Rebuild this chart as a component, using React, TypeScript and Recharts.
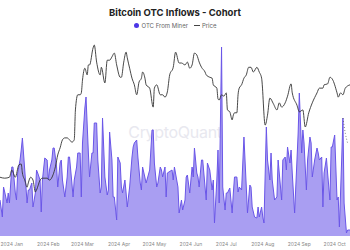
import React from "react";
import { ComposedChart, Area, Line, XAxis, YAxis } from "recharts";

// day offsets from 2024-01-01
const otcDays = [
  -10, -8, -7, -6, -4, -3, -2, 0, 1, 3, 4, 5, 7, 8, 9, 11, 13, 14, 15, 17, 18, 20, 21, 22, 24, 25, 26, 28, 30, 31,
  32, 34, 35, 36, 38, 39, 41, 42, 43, 45, 47, 48, 49, 51, 52, 53, 55, 56, 58, 59, 60, 62, 63, 65, 66, 68, 69, 70, 72, 73,
  75, 76, 77, 79, 81, 82, 83, 85, 86, 87, 89, 90, 92, 93, 94, 96, 97, 98, 100, 102, 103, 104, 106, 107, 109, 110, 111, 114, 117, 119,
  120, 121, 123, 124, 126, 127, 128, 130, 131, 132, 136, 137, 138, 141, 142, 144, 145, 147, 148, 149, 151, 153, 154, 155, 157, 158, 159, 161, 162, 164,
  165, 166, 168, 170, 171, 172, 174, 175, 176, 178, 179, 181, 182, 183, 185, 187, 188, 189, 191, 192, 193, 195, 197, 199, 200, 202, 203, 204, 206, 208,
  209, 210, 212, 213, 214, 216, 217, 219, 220, 221, 223, 225, 226, 229, 230, 232, 233, 234, 236, 237, 238, 240, 242, 243, 244, 246, 247, 248, 250, 251,
  253, 254, 255, 257, 259, 260, 261, 263, 264, 265, 267, 268, 270, 271, 272, 274, 276, 277, 278, 280, 281, 282, 284, 285, 287,
];
const otcFromMiner = [
  36, 19, 49, 44, 33, 43, 33, 69, 69, 43, 36, 63, 76, 86, 98, 66, 33, 46, 46, 53, 29, 43, 66, 63, 56, 24, 56, 78, 76, 56,
  66, 76, 88, 88, 69, 49, 73, 76, 56, 39, 59, 79, 79, 53, 39, 56, 69, 83, 83, 39, 93, 128, 139, 83, 59, 83, 83, 113, 113, 76,
  43, 49, 118, 59, 41, 46, 104, 76, 39, 39, 16, 79, 73, 49, 43, 56, 43, 29, 49, 79, 89, 93, 96, 79, 53, 46, 69, 53, 66, 106,
  106, 73, 49, 53, 69, 66, 59, 69, 39, 63, 66, 56, 69, 49, 23, 36, 26, 36, 59, 61, 43, 69, 59, 88, 63, 59, 49, 76, 76, 49,
  36, 73, 66, 46, 56, 13, 56, 86, 33, 189, 49, 26, 43, 43, 48, 23, 43, 59, 59, 44, 49, 46, 99, 49, 23, 51, 49, 29, 19, 18,
  29, 19, 29, 19, 13, 109, 76, 56, 83, 56, 36, 39, 76, 36, 76, 79, 66, 89, 73, 86, 63, 23, 76, 103, 143, 83, 106, 93, 46, 76,
  99, 93, 59, 76, 88, 83, 76, 79, 29, 63, 78, 63, 36, 89, 89, 101, 36, 39, 9, 79, 118, 33, 3, 6, 6,
];

const priceDays = [
  -10, -6, -2, 0, 3, 6, 8, 9, 11, 13, 14, 16, 18, 20, 21, 24, 26, 30, 32, 35, 37, 39, 41, 43, 45, 47, 49, 51, 53, 54,
  56, 58, 59, 60, 62, 64, 65, 66, 69, 70, 72, 75, 76, 79, 81, 83, 85, 87, 89, 92, 93, 95, 97, 98, 100, 102, 104, 106, 108, 110,
  111, 113, 114, 117, 120, 121, 123, 126, 128, 130, 132, 134, 137, 139, 142, 144, 147, 149, 151, 153, 155, 157, 159, 161, 164, 165, 168, 170, 171, 174,
  175, 176, 178, 180, 182, 183, 185, 187, 188, 189, 191, 192, 193, 195, 197, 199, 201, 203, 205, 208, 210, 212, 215, 217, 219, 222, 225, 227, 229, 232,
  234, 237, 238, 242, 244, 247, 249, 252, 255, 259, 261, 264, 265, 268, 270, 272, 276, 277, 279, 281, 283, 287,
];
const price = [
  44700, 44500, 44700, 46200, 44700, 47300, 47500, 45600, 44100, 42600, 43500, 44700, 44100, 41600, 42000, 44100, 44500, 44500, 44100, 45200, 46900, 49400, 50900, 52600, 53000, 53000, 52600, 52100, 52600, 58900,
  62100, 62100, 62500, 65200, 67700, 66300, 68400, 68400, 72000, 72600, 69000, 66300, 67900, 64600, 69400, 69400, 70100, 70900, 68400, 65800, 65800, 69000, 71100, 69900, 67700, 65600, 64200, 62100, 64800, 65600,
  66900, 65600, 64200, 63500, 59500, 63500, 64200, 62100, 62100, 61600, 62700, 66300, 67900, 71100, 68800, 68800, 68400, 69000, 67700, 68400, 70900, 70500, 69000, 67900, 66900, 66300, 65800, 65600, 64200, 63500,
  61200, 61000, 62100, 61800, 62500, 58900, 58500, 56800, 57800, 58300, 58300, 62100, 63500, 64200, 65600, 66300, 67900, 67900, 66900, 67900, 66900, 65600, 55700, 57800, 61400, 60200, 58900, 60400, 59500, 60400,
  61800, 64400, 62500, 59900, 58500, 58900, 55300, 58300, 60400, 62500, 63500, 63500, 64200, 64400, 65800, 65400, 62500, 61600, 62500, 62100, 63500, 64200,
];

// short dotted trace at the right edge
const dottedDays = [281, 283, 285];
const dottedValues = [57200, 54000, 51900];

const monthTicks = [0, 31, 60, 91, 121, 152, 182, 213, 244, 274];
const monthLabels = ["2024 Jan", "2024 Feb", "2024 Mar", "2024 Apr", "2024 May", "2024 Jun", "2024 Jul", "2024 Aug", "2024 Sep", "2024 Oct"];

const otcData = otcDays.map((day, i) => ({ day, otc: otcFromMiner[i] }));
const priceData = priceDays.map((day, i) => ({ day, price: price[i] }));
const dottedData = dottedDays.map((day, i) => ({ day, dotted: dottedValues[i] }));

const FONT = "Inter, 'Noto Sans', sans-serif";

export default function App() {
  return (
    <div style={{ position: "absolute", left: 0, top: 0, width: 350, height: 250, background: "#fff", fontFamily: FONT, overflow: "hidden" }}>
      <div style={{ position: "absolute", left: 0, width: 350, top: 7, textAlign: "center", fontSize: 9.5, fontWeight: 700, color: "#222" }}>
        Bitcoin OTC Inflows - Cohort
      </div>
      <div style={{ position: "absolute", left: 0, width: 350, top: 22, display: "flex", justifyContent: "center", alignItems: "center", fontSize: 6, color: "#666" }}>
        <span style={{ width: 5, height: 5, borderRadius: 3, background: "#4b36e6", marginRight: 3 }} />
        <span>OTC From Miner</span>
        <span style={{ width: 6, borderTop: "1px solid #444", marginLeft: 6, marginRight: 2 }} />
        <span>Price</span>
      </div>
      <div style={{ position: "absolute", left: 0, width: 350, top: 122, textAlign: "center", fontSize: 16, color: "#e8e8ef", letterSpacing: -0.3 }}>
        CryptoQuant
      </div>
      <div style={{ position: "absolute", left: 0, top: 0 }}>
        <ComposedChart width={350} height={250} margin={{ top: 40, right: 0, bottom: 0, left: 0 }}>
          <XAxis dataKey="day" type="number" domain={[-10, 287]} ticks={monthTicks} allowDuplicatedCategory={false}
            tickFormatter={(v) => monthLabels[monthTicks.indexOf(v)] ?? ""}
            axisLine={false} tickLine={false} height={14} interval={0}
            tick={{ fontSize: 5, fill: "#888", fontFamily: FONT, dy: -2 }} />
          <YAxis yAxisId="otc" hide domain={[0, 196]} />
          <YAxis yAxisId="price" hide orientation="right" domain={[32300, 73660]} />
          <Area yAxisId="otc" data={otcData} dataKey="otc" name="OTC From Miner" type="linear"
            stroke="#6a56e8" strokeWidth={1} fill="#a99ef2" fillOpacity={1} isAnimationActive={false} />
          <Line yAxisId="price" data={priceData} dataKey="price" name="Price" type="monotone"
            stroke="#333" strokeWidth={0.9} dot={false} isAnimationActive={false} />
          <Line yAxisId="price" data={dottedData} dataKey="dotted" type="monotone" legendType="none"
            stroke="#666" strokeWidth={0.8} strokeDasharray="1 2" dot={false} isAnimationActive={false} />
        </ComposedChart>
      </div>
    </div>
  );
}
